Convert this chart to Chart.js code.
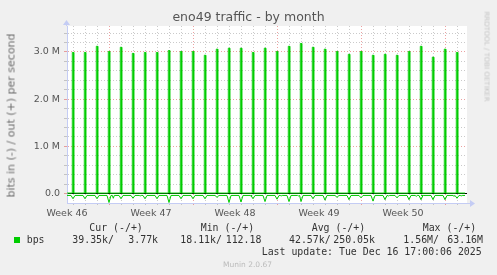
<!DOCTYPE html>
<html><head><meta charset="utf-8">
<script src="https://cdn.jsdelivr.net/npm/chart.js@4/dist/chart.umd.min.js"></script>
<style>
html,body{margin:0;padding:0;background:#F0F0F0;}
#wrap{position:relative;width:497px;height:275px;overflow:hidden;background:#F0F0F0;}
canvas{position:absolute;left:0;top:0;}
.t{position:absolute;white-space:pre;font-family:'DejaVu Sans',sans-serif;font-weight:normal;color:#555;line-height:1;}
.m{position:absolute;white-space:pre;font-family:'DejaVu Sans Mono',monospace;font-size:9.9px;color:#333;line-height:1;top:0;}
</style></head>
<body><div id="wrap">
<canvas id="c" width="497" height="275" style="width:497px;height:275px"></canvas>
<div class="t" style="left:0;width:497px;text-align:center;top:11.4px;font-size:12.5px;color:#555">eno49 traffic - by month</div>
<div class="t" style="left:-89.5px;width:200px;text-align:center;top:109.5px;font-size:11px;color:#6e6e6e;transform:rotate(-90deg);transform-origin:50% 50%">bits in (-) / out (+) per second</div>
<div class="t" style="left:435.5px;width:100px;text-align:center;top:53px;font-size:7px;color:#C4C4C4;transform:rotate(90deg);transform-origin:50% 50%">RRDTOOL / TOBI OETIKER</div>
<div id="legend"></div>
<div class="t" style="left:223px;top:261px;font-size:7.5px;color:#BBBBBB">Munin 2.0.67</div>
</div>
<script>
// ---- data (values in M bits/s), x in days from left edge of graph ----
const spikeDays = [0.5,1.5,2.5,3.5,4.5,5.5,6.5,7.5,8.5,9.5,10.5,11.5,12.5,13.5,14.5,15.5,16.5,17.5,18.5,19.5,20.5,21.5,22.5,23.5,24.5,25.5,26.5,27.5,28.5,29.5,30.5,31.5,32.5];
const outPeak = [2.99,2.99,3.12,3.01,3.10,2.97,2.99,2.99,3.03,3.01,3.01,2.93,3.06,3.08,3.08,2.99,3.08,3.01,3.12,3.18,3.10,3.06,3.01,2.95,3.01,2.93,2.95,2.93,3.01,3.12,2.89,3.06,2.99];
const inDip = [-0.11,-0.11,-0.11,-0.19,-0.11,-0.10,-0.11,-0.11,-0.19,-0.11,-0.11,-0.11,-0.08,-0.19,-0.18,-0.11,-0.17,-0.12,-0.17,-0.17,-0.11,-0.14,-0.08,-0.13,-0.09,-0.16,-0.13,-0.09,-0.13,-0.13,-0.13,-0.13,-0.10];
const extraInDays = [3.86,6.1,15.35,17.85,19.3,26.8,29.1,29.6,32.25,32.85];
const extraInVals = [-0.10,-0.05,-0.06,-0.05,-0.05,-0.05,-0.06,-0.05,-0.06,-0.05];
const outBase = 0.01;
const inBase = -0.04;
const dataEnd = 33.17;
const weekLabelDays = [0,7,14,21,28];
const weekLabels = ['Week 46','Week 47','Week 48','Week 49','Week 50'];
const weekStartDays = [3.5,10.5,17.5,24.5,31.5];
const yLabelVals = [0,1,2,3];
const yLabels = ['0.0','1.0 M','2.0 M','3.0 M'];
const legendHead = [['Cur (-/+)',89.3],['Min (-/+)',200.7],['Avg (-/+)',311.7],['Max (-/+)',422.7]];
const legendVals = [['bps',26.7],['39.35k/',72.3],['3.77k',128.3],['18.11k/',180.3],['112.18',225.7],['42.57k/',289],['250.05k',333.3],['1.56M/',403.3],['63.16M',447.3]];
const lastUpdate = 'Last update: Tue Dec 16 17:00:06 2025';

// ---- build legend (real text) ----
const lg = document.getElementById('legend');
function addM(txt, x, top){const d=document.createElement('div');d.className='m';d.textContent=txt;d.style.left=x+'px';d.style.top=top+'px';lg.appendChild(d);}
legendHead.forEach(h=>addM(h[0],h[1],223.3));
legendVals.forEach(v=>addM(v[0],v[1],234.9));
addM(lastUpdate,261.7,246.6);
const sq=document.createElement('div');sq.style.cssText='position:absolute;left:14px;top:237px;width:6px;height:6px;background:#00CC00';lg.appendChild(sq);

// ---- build datasets ----
const px = 1/12; // one pixel in days
const half = 0.7*px;
const outPts = [{x:0,y:outBase}];
spikeDays.forEach((d,i)=>{
  outPts.push({x:d-half,y:outBase},{x:d-half,y:outPeak[i]},{x:d+half,y:outPeak[i]},{x:d+half,y:outBase});
});
outPts.push({x:dataEnd,y:outBase});
const ev = [];
spikeDays.forEach((d,i)=>ev.push([d,inDip[i],2*px]));
extraInDays.forEach((d,i)=>ev.push([d,extraInVals[i],px]));
ev.sort((a,b)=>a[0]-b[0]);
const inPts = [{x:0,y:inBase}];
ev.forEach(e=>{inPts.push({x:e[0]-e[2],y:inBase},{x:e[0],y:e[1]},{x:e[0]+e[2],y:inBase});});
inPts.push({x:dataEnd,y:inBase});

const dailyTicks = spikeDays.slice();
const xTickVals = dailyTicks.concat(weekLabelDays).sort((a,b)=>a-b);
const yTickVals = [];
for(let k=0;k<=17;k++) yTickVals.push(Math.round(k*2)/10);

const isWeek = v => weekStartDays.some(w=>Math.abs(w-v)<1e-6);
const isLabel = v => weekLabelDays.some(w=>Math.abs(w-v)<1e-6) && !dailyTicks.some(w=>Math.abs(w-v)<1e-6);
const isMajY = v => yLabelVals.some(w=>Math.abs(w-v)<1e-6);

const MINOR='rgba(150,150,150,0.5)', MAJOR='rgba(225,110,110,0.65)', AXIS='#C4CCF4';

const bgPlugin = {
  id:'bg',
  beforeDraw(chart){const a=chart.chartArea,c=chart.ctx;c.save();c.fillStyle='#FFFFFF';c.fillRect(a.left,a.top,a.right-a.left,a.bottom-a.top);c.restore();},
  afterDraw(chart){
    const a=chart.chartArea,c=chart.ctx;c.save();c.strokeStyle=AXIS;c.fillStyle=AXIS;c.lineWidth=1;
    c.beginPath();c.moveTo(a.right,a.bottom+0.5);c.lineTo(a.right+3,a.bottom+0.5);c.stroke();
    c.beginPath();c.moveTo(a.right+3,a.bottom-3);c.lineTo(a.right+8,a.bottom+0.5);c.lineTo(a.right+3,a.bottom+4);c.closePath();c.fill();
    c.beginPath();c.moveTo(a.left-0.5,a.top);c.lineTo(a.left-0.5,a.top-1);c.stroke();
    c.beginPath();c.moveTo(a.left-4,a.top-1);c.lineTo(a.left-0.5,a.top-6);c.lineTo(a.left+3,a.top-1);c.closePath();c.fill();
    c.restore();
  }
};

new Chart(document.getElementById('c'),{
  type:'line',
  data:{datasets:[
    {label:'in',data:inPts,borderColor:'#00CC00',borderWidth:1,pointRadius:0,fill:false,tension:0},
    {label:'out',data:outPts,borderColor:'#00CC00',borderWidth:1,pointRadius:0,fill:false,tension:0}
  ]},
  options:{
    responsive:false,animation:false,devicePixelRatio:1,
    layout:{padding:{left:0,top:26,right:30,bottom:52}},
    plugins:{legend:{display:false},tooltip:{enabled:false},title:{display:false}},
    scales:{
      x:{type:'linear',min:0,max:33.333,
        afterBuildTicks:s=>{s.ticks=xTickVals.map(v=>({value:v}));},
        afterFit:s=>{s.height=20;s.paddingLeft=0;s.paddingRight=0;},
        ticks:{autoSkip:false,maxRotation:0,minRotation:0,padding:3,color:'#555',font:{family:'DejaVu Sans',size:9.5},
          callback:(v)=>{const i=weekLabelDays.findIndex(w=>Math.abs(w-v)<1e-6);return i>=0?weekLabels[i]:'';}},
        grid:{lineWidth:1,tickLength:2,
          color:c=>{const v=c.tick?c.tick.value:0;if(isLabel(v))return 'rgba(0,0,0,0)';return isWeek(v)?MAJOR:MINOR;},
          tickColor:c=>{const v=c.tick?c.tick.value:0;if(isLabel(v))return 'rgba(0,0,0,0)';return isWeek(v)?MAJOR:MINOR;}},
        border:{display:true,color:AXIS,width:1,dash:c=>c.tick?[1,2]:[]}
      },
      y:{type:'linear',min:-0.2,max:3.55,
        afterBuildTicks:s=>{s.ticks=yTickVals.map(v=>({value:v}));},
        afterFit:s=>{s.width=67;s.paddingTop=0;s.paddingBottom=0;},
        ticks:{autoSkip:false,padding:4,color:'#555',font:{family:'DejaVu Sans',size:9.5},
          callback:(v)=>{const i=yLabelVals.findIndex(w=>Math.abs(w-v)<1e-6);return i>=0?yLabels[i]:'';}},
        grid:{lineWidth:1,tickLength:3,
          color:c=>{const v=c.tick?c.tick.value:1;if(Math.abs(v)<1e-6)return '#000000';return isMajY(v)?MAJOR:MINOR;},
          tickColor:c=>{const v=c.tick?c.tick.value:1;return isMajY(v)?MAJOR:MINOR;}},
        border:{display:true,color:AXIS,width:1,dash:c=>(c.tick&&Math.abs(c.tick.value)>1e-6)?[1,2]:[]}
      }
    }
  },
  plugins:[bgPlugin]
});
</script>
</body></html>
